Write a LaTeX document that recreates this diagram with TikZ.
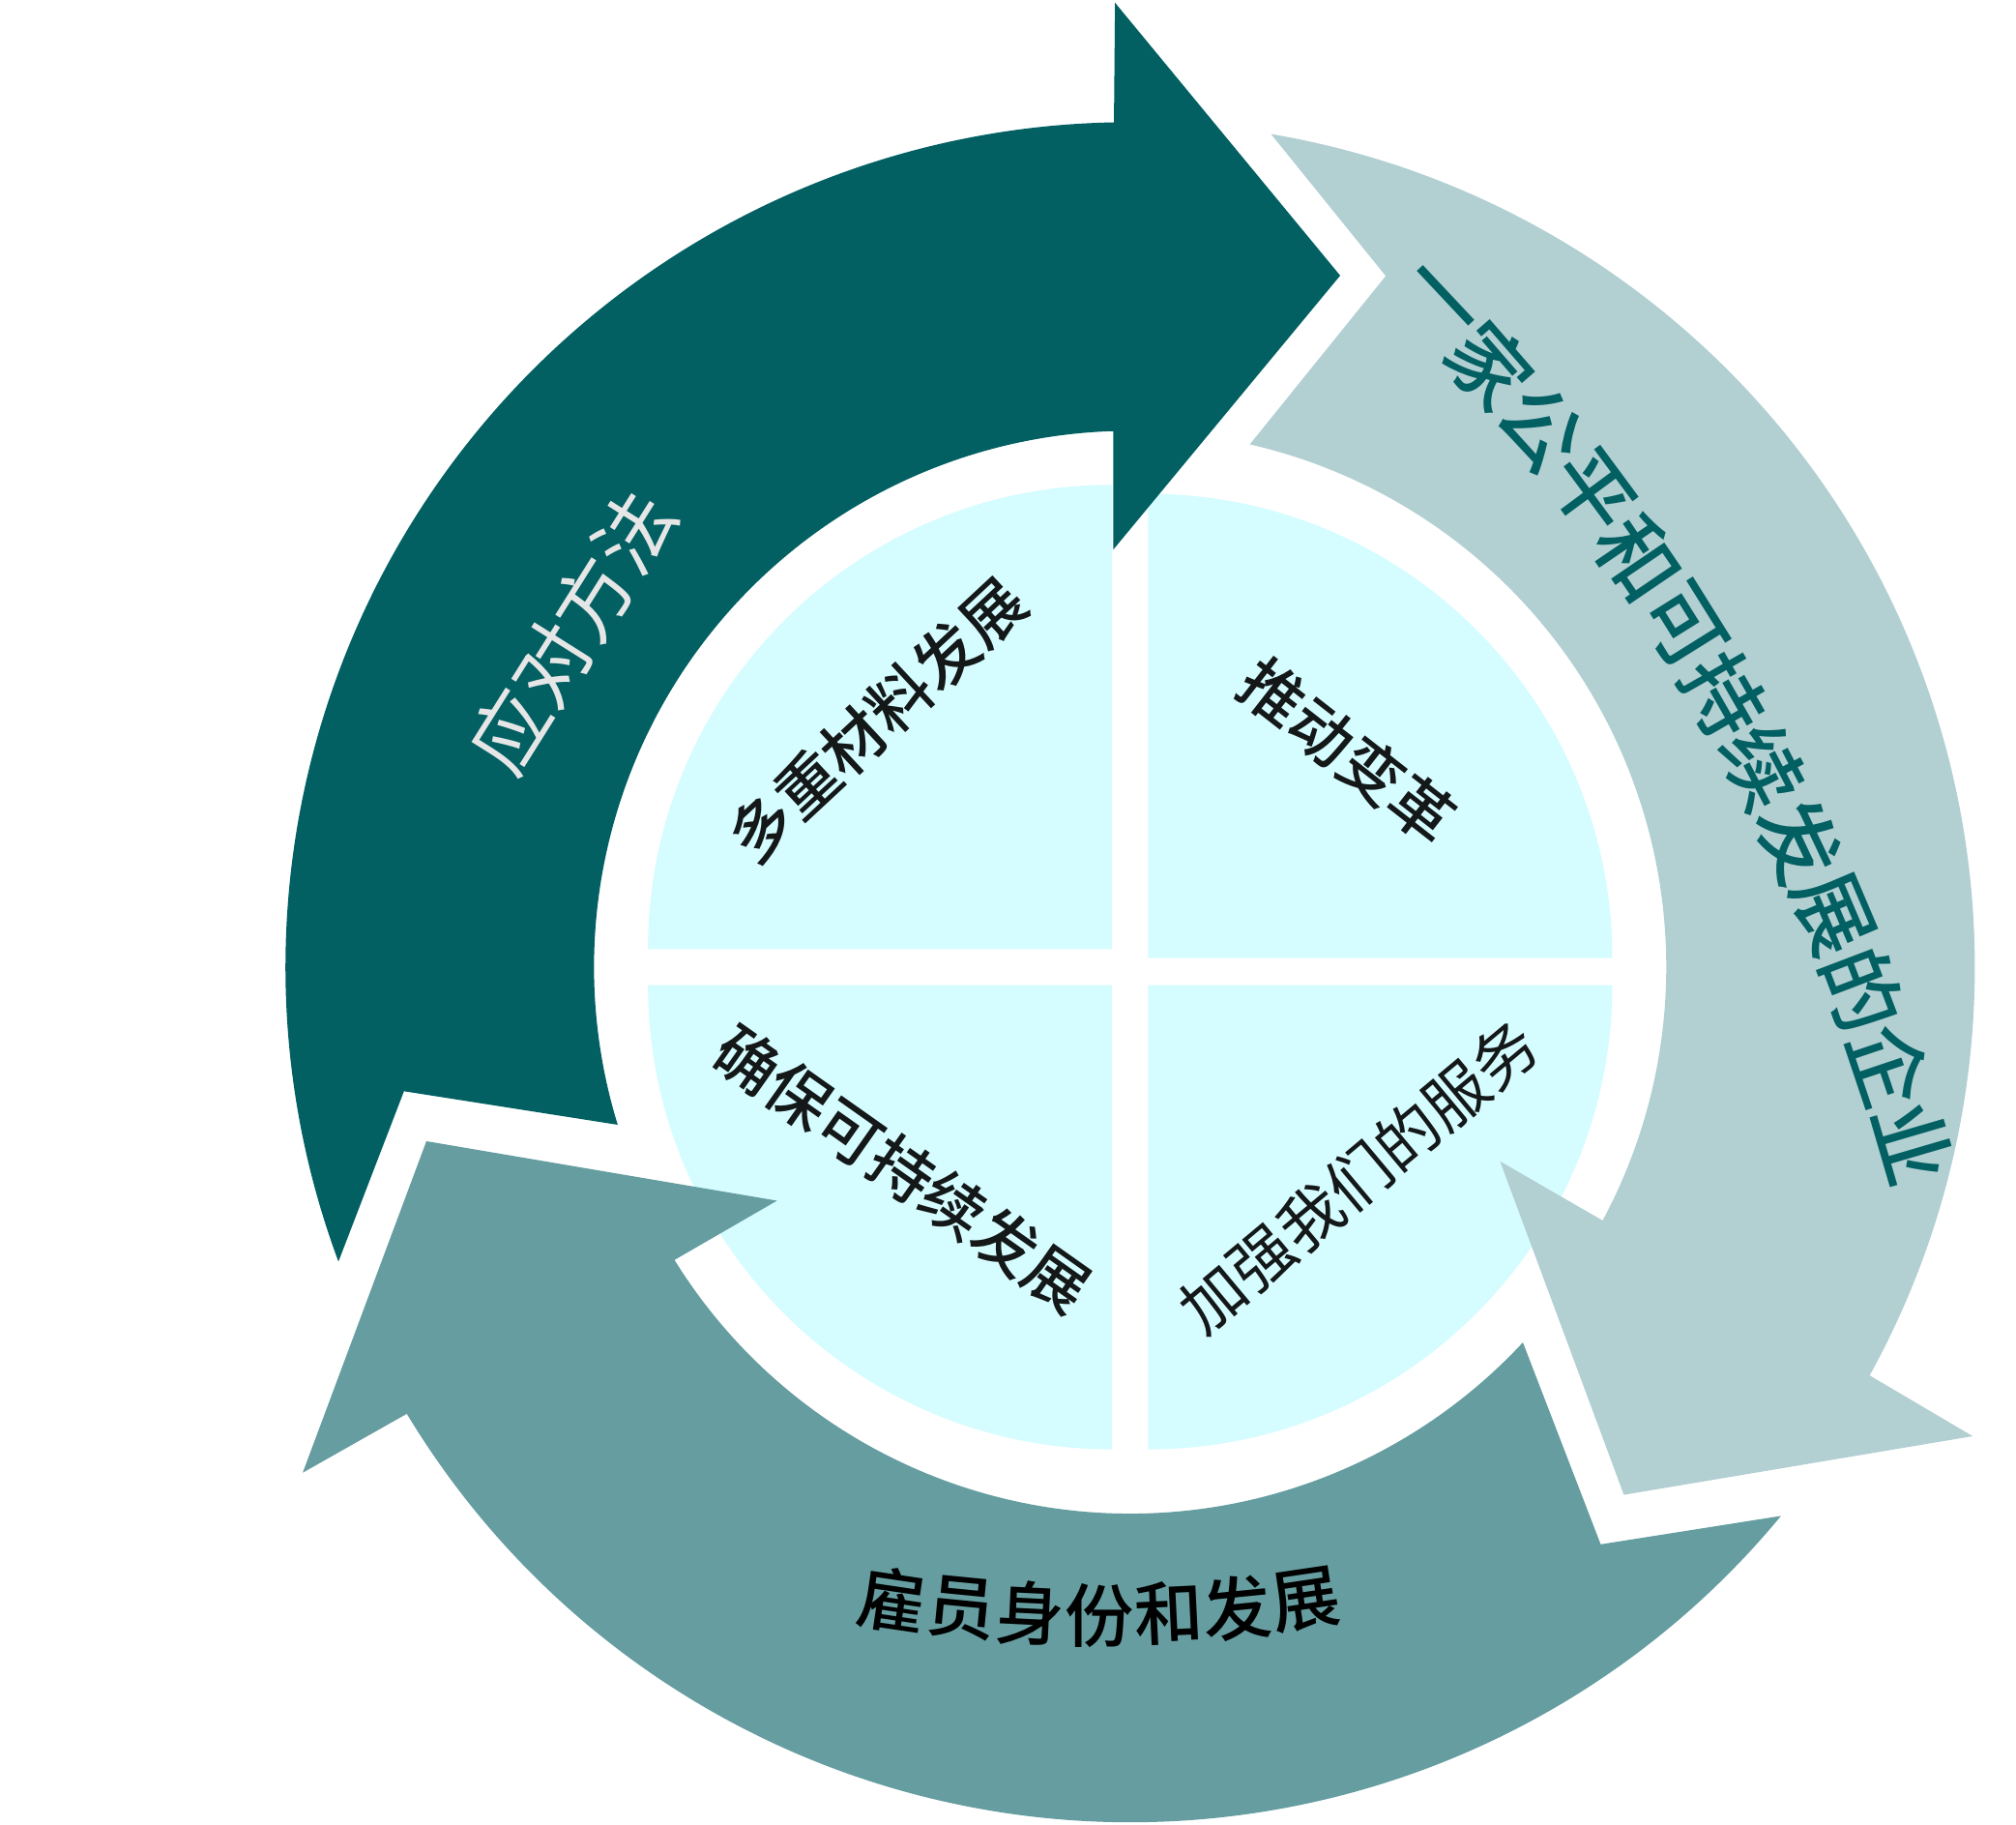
\documentclass[tikz,border=0pt]{standalone}
\usepackage{fontspec}
\setmainfont{Noto Sans CJK SC}
\IfFontExistsTF{Noto Sans CJK SC Medium}
    {\newfontfamily\midweight{Noto Sans CJK SC Medium}}
    {\newfontfamily\midweight{Noto Sans CJK SC}[FakeBold=1.2]}
\usepackage{tikz}

\definecolor{deepteal}{RGB}{2,96,99}
\definecolor{paleteal}{RGB}{178,207,210}
\definecolor{midteal}{RGB}{101,157,160}
\definecolor{piecyan}{RGB}{213,252,255}
\definecolor{ghost}{RGB}{230,230,230}
\definecolor{inkblack}{RGB}{20,24,24}

\tikzset{
    ring text/.style={inner sep=0pt, font=\fontsize{23}{23}\selectfont},
    pie text/.style={inner sep=0pt, text=inkblack, font=\fontsize{18.6}{18.6}\selectfont\midweight},
    pie plain/.style={inner sep=0pt, text=inkblack, font=\fontsize{18.6}{18.6}\selectfont},
}

\begin{document}
\begin{tikzpicture}[x=0.0132972cm, y=0.0132972cm]
    \useasboundingbox (-879,-667) rectangle (689,752);
    % The four quarters of the pie.
        \fill[piecyan] (-14,14) -- (-375,14) arc (180:90:361) -- cycle;
        \fill[piecyan] (14,7) -- (375,7) arc (0:90:361) -- cycle;
        \fill[piecyan] (-14,-14) -- (-375,-14) arc (180:270:361) -- cycle;
        \fill[piecyan] (14,-14) -- (375,-14) arc (0:-90:361) -- cycle;
    % The three arrows, each one turned a third of the way on.
    \foreach \turn/\shade/\drop in {0/deepteal/0, -120/paleteal/0, -240/midteal/-8}
        \fill[\shade, shift={(0,\drop)}, rotate=\turn]
            (200.4:657) arc (200.4:91.1:657) -- (90.9:750) -- (73.1:562)
            -- (92.3:325) -- (91.8:417) arc (91.8:197.1:417) -- (189.7:573) -- cycle;
    % Labels on the arrows.
        \node[ring text, text=ghost, rotate=57.8] (cope) at (-434,261) {应对方法};
        \foreach \ch [count=\k from 0] in {一,家,公,平,和,可,持,续,发,展,的,企,业}{
            \pgfmathsetmacro{\a}{43.2-2.24*\k}
            \node[ring text, text=deepteal, font=\fontsize{24}{24}\selectfont\midweight, rotate=\a-90] (fair\k) at ([shift={(-939.3,-590.5)}]\a:1614.3) {\ch};
        }
        \foreach \ch [count=\k from 0] in {雇,员,身,份,和,发,展}{
            \pgfmathsetmacro{\b}{261.6+2.8*\k}
            \node[pie text, text=black, font=\fontsize{20.3}{20.3}\selectfont\midweight, rotate=\b+90] (staff\k) at ([shift={(-24,596)}]\b:1100) {\ch};
        }
    % Labels in the pie.
        \node[pie text, rotate=42.9] (multi) at (-197,192) {多重材料发展};
        \node[pie text, rotate=-38] (drive) at (169,168) {推动变革};
        \node[pie text, rotate=-35.2] (keep) at (-177,-157) {确保可持续发展};
        \node[pie plain, rotate=39.9] (serve) at (178,-163) {加强我们的服务};
\end{tikzpicture}
\end{document}
